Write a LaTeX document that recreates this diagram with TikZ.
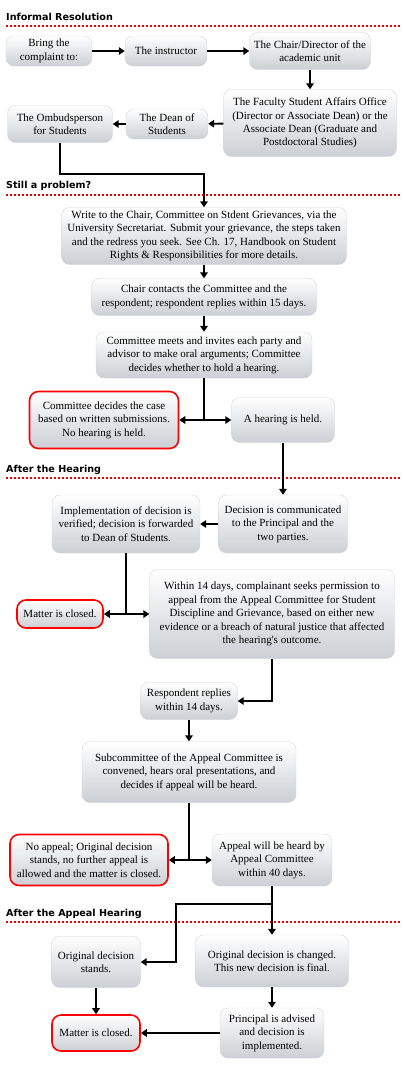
\documentclass[tikz,border=0pt]{standalone}
\usepackage{fontspec}
\setmainfont{Liberation Serif}
\newfontfamily\hdrfont{DejaVu Sans}
\usetikzlibrary{arrows.meta}
\definecolor{boxbot}{RGB}{204,207,212}
\definecolor{boxline}{RGB}{214,214,214}
\definecolor{sepred}{RGB}{232,0,0}

\begin{document}
\begin{tikzpicture}[x=1pt, y=1pt,
    box/.style={draw=boxline, rounded corners=8pt, top color=white, bottom color=boxbot,
        align=center, inner sep=1pt, font=\fontsize{11}{13.4}\selectfont},
    endbox/.style={box, draw=red, line width=1.6pt, rounded corners=9pt},
    arr/.style={-{Triangle[width=7.5pt,length=6pt]}, line width=1.8pt},
    hdr/.style={anchor=west, inner sep=0pt, font=\hdrfont\bfseries\fontsize{9.6}{11}\selectfont},
    sepline/.style={draw=sepred, line width=2pt, dash pattern=on 2pt off 2pt}]
    \useasboundingbox (0,0) rectangle (403,-1072);

    % Section headers
    \node[hdr] (h1) at (6,-17) {Informal Resolution};
    \node[hdr] (h2) at (6,-186) {Still a problem?};
    \node[hdr] (h3) at (6,-470) {After the Hearing};
    \node[hdr] (h4) at (6,-914) {After the Appeal Hearing};
    \draw[sepline] (6,-26) -- (400,-26);
    \draw[sepline] (6,-195) -- (400,-195);
    \draw[sepline] (6,-478) -- (400,-478);
    \draw[sepline] (6,-922) -- (400,-922);

    % Informal resolution
    \node[box, minimum width=86, minimum height=30] (bring) at (49,-51) {Bring the\\complaint to:};
    \node[box, minimum width=82, minimum height=30] (instr) at (166,-51) {The instructor};
    \node[box, minimum width=121, minimum height=37] (chair) at (310,-51) {The Chair/Director of the\\academic unit};
    \node[box, minimum width=173, minimum height=67] (faculty) at (310,-123) {The Faculty Student Affairs Office\\(Director or Associate Dean) or the\\Associate Dean (Graduate and\\Postdoctoral Studies)};
    \node[box, minimum width=82, minimum height=30] (dean) at (167,-124) {The Dean of\\Students};
    \node[box, minimum width=105, minimum height=37] (ombud) at (60,-124) {The Ombudsperson\\for Students};

    % Still a problem
    \node[box, minimum width=285, minimum height=57] (write) at (204,-236) {Write to the Chair, Committee on Stdent Grievances, via the\\University Secretariat. Submit your grievance, the steps taken\\and the redress you seek. See Ch. 17, Handbook on Student\\Rights \& Responsibilities for more details.};
    \node[box, minimum width=225, minimum height=37] (contact) at (204,-297) {Chair contacts the Committee and the\\respondent; respondent replies within 15 days.};
    \node[box, minimum width=216, minimum height=46] (meets) at (204,-355) {Committee meets and invites each party and\\advisor to make oral arguments; Committee\\decides whether to hold a hearing.};
    \node[endbox, minimum width=149, minimum height=57] (written) at (104,-420) {Committee decides the case\\based on written submissions.\\No hearing is held.};
    \node[box, minimum width=103, minimum height=45] (hearing) at (283,-420) {A hearing is held.};

    % After the hearing
    \node[box, minimum width=129, minimum height=58] (communicated) at (283,-524) {Decision is communicated\\to the Principal and the\\two parties.};
    \node[box, minimum width=148, minimum height=58] (implement) at (126,-524) {Implementation of decision is\\verified; decision is forwarded\\to Dean of Students.};
    \node[endbox, minimum width=86, minimum height=28] (closedA) at (60,-614) {Matter is closed.};
    \node[box, minimum width=245, minimum height=89] (appeal) at (272,-614) {Within 14 days, complainant seeks permission to\\appeal from the Appeal Committee for Student\\Discipline and Grievance, based on either new\\evidence or a breach of natural justice that affected\\the hearing\textquotesingle s outcome.};
    \node[box, minimum width=97, minimum height=37] (replies) at (189,-701) {Respondent replies\\within 14 days.};
    \node[box, minimum width=214, minimum height=61] (subcom) at (189,-772) {Subcommittee of the Appeal Committee is\\convened, hears oral presentations, and\\decides if appeal will be heard.};
    \node[endbox, minimum width=158, minimum height=51] (noappeal) at (89,-860) {No appeal; Original decision\\stands, no further appeal is\\allowed and the matter is closed.};
    \node[box, minimum width=120, minimum height=52] (heardby) at (272,-860) {Appeal will be heard by\\Appeal Committee\\within 40 days.};

    % After the appeal hearing
    \node[box, minimum width=89, minimum height=51] (stands) at (96,-962) {Original decision\\stands.};
    \node[box, minimum width=153, minimum height=52] (changed) at (272,-961) {Original decision is changed.\\This new decision is final.};
    \node[endbox, minimum width=88, minimum height=36] (closedB) at (96,-1033) {Matter is closed.};
    \node[box, minimum width=104, minimum height=50] (principal) at (272,-1033) {Principal is advised\\and decision is\\implemented.};
    \coordinate (bend) at (176,-904);

    % Arrows
    \draw[arr] (bring) -- (instr);
    \draw[arr] (instr) -- (chair);
    \draw[arr] (chair) -- (faculty);
    \draw[arr] (faculty) -- (dean);
    \draw[arr] (dean) -- (ombud);
    \draw[arr] (ombud.south) -- ++(0,-31) -| (write.north);
    \draw[arr] (write) -- (contact);
    \draw[arr] (contact) -- (meets);
    \draw[arr] (meets.south) |- (written.east);
    \draw[arr] (meets.south) |- (hearing.west);
    \draw[arr] (hearing) -- (communicated);
    \draw[arr] (communicated) -- (implement);
    \draw[arr] (implement.south) |- (closedA.east);
    \draw[arr] (implement.south) |- (appeal.west);
    \draw[arr] (appeal.south) |- (replies.east);
    \draw[arr] (replies) -- (subcom);
    \draw[arr] (subcom.south) |- (noappeal.east);
    \draw[arr] (subcom.south) |- (heardby.west);
    \draw[arr] (heardby) -- (changed);
    \draw[arr] (heardby.south) |- (bend) |- (stands.east);
    \draw[arr] (stands) -- (closedB);
    \draw[arr] (changed) -- (principal);
    \draw[arr] (principal) -- (closedB);
\end{tikzpicture}
\end{document}
